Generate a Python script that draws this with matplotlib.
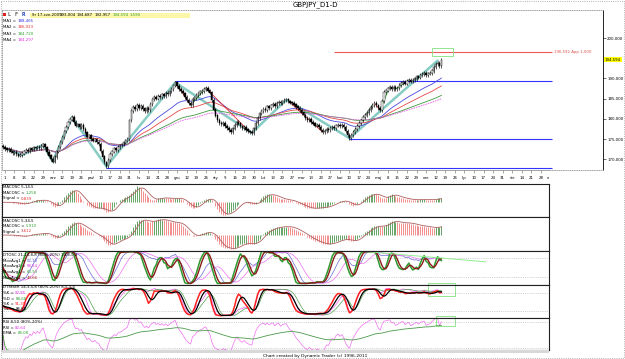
import numpy as np
import pandas as pd
import matplotlib
matplotlib.use("Agg")
import matplotlib.pyplot as plt
from matplotlib.patches import Rectangle
import matplotlib.transforms as mtrans

W, H = 625, 359
FS = 2.8

# daily closes, GBPJPY D1, 31 Jul 2008 .. 17 Jun 2009 (bar index 0..229)
close = np.array([
    173.0, 172.6, 172.2, 172.5, 171.9, 171.6, 171.8, 171.2, 170.9, 171.0,
    171.4, 171.9, 172.3, 172.1, 172.6, 172.4, 172.9, 172.7, 173.0, 172.8,
    173.2, 173.6, 172.9, 171.8, 170.9, 170.0, 169.4, 170.6, 171.9, 173.0,
    174.2, 175.5, 176.9, 178.0, 179.1, 179.8, 180.4, 179.2, 178.3, 178.6,
    178.0, 178.4, 177.5, 176.6, 175.6, 175.9, 175.0, 174.6, 174.9, 174.2,
    173.8, 172.0, 170.6, 169.2, 168.2, 169.8, 171.3, 171.9, 172.6, 172.2,
    173.0, 173.4, 173.6, 174.1, 174.6, 175.0, 179.6, 182.0, 182.9, 182.4,
    183.4, 182.7, 183.2, 182.5, 181.9, 182.6, 182.2, 183.6, 184.8, 185.4,
    185.0, 185.6, 185.3, 186.0, 185.7, 186.4, 186.1, 186.8, 187.3, 188.2,
    189.0, 188.1, 187.4, 186.9, 186.3, 185.4, 184.6, 183.9, 183.4, 184.9,
    185.2, 185.9, 186.3, 186.7, 186.9, 187.4, 187.6, 187.0, 186.5, 184.6,
    182.3, 180.8, 179.7, 179.0, 178.6, 178.9, 178.2, 177.7, 177.2, 176.8,
    177.6, 178.5, 179.2, 178.8, 178.1, 177.7, 178.0, 177.3, 176.9, 176.7,
    176.5, 177.6, 179.0, 180.2, 181.3, 181.9, 182.4, 182.1, 183.0, 182.7,
    183.3, 183.6, 183.2, 183.9, 184.2, 183.8, 184.3, 184.6, 184.7, 184.3,
    184.0, 183.9, 183.5, 183.0, 182.6, 182.2, 181.5, 180.9, 180.2, 179.7,
    179.9, 179.2, 178.8, 178.3, 178.5, 177.9, 177.2, 176.7, 177.0, 177.4,
    177.2, 177.7, 178.0, 177.8, 178.3, 178.5, 178.2, 178.4, 178.0, 177.0,
    176.0, 175.2, 176.0, 176.7, 177.4, 178.2, 178.9, 179.6, 180.4, 180.9,
    181.4, 182.2, 182.9, 183.4, 183.9, 183.3, 182.6, 182.2, 184.4, 186.6,
    187.0, 187.5, 187.9, 187.4, 187.8, 187.3, 187.6, 188.3, 188.8, 189.1,
    188.7, 189.3, 189.6, 189.2, 189.6, 189.9, 190.4, 190.2, 190.8, 191.1,
    191.3, 190.9, 191.2, 191.3, 191.9, 192.8, 193.6, 193.8, 193.004, 194.594,
])
first_open = 173.3

# weekly (Friday) date labels, bar index = 1 + 5*k
date_labels = ['1', '8', '15', '22', '29', 'wrz', '12', '19', '26', 'paź', '10', '17', '24', '31',
               'lis', '14', '21', '28', 'gru', '12', '19', '26', 'sty', '9', '16', '23', '30',
               'lut', '13', '20', '27', 'mar', '13', '20', '27', 'kwi', '10', '17', '24',
               'maj', '8', '15', '22', '29', 'cze', '12', '19', '26', 'lip', '10', '17', '24', '31',
               'sie', '14', '21', '28', 'wrz']

# swing zigzag (bar, price)
zz_bar = [3, 10, 21, 26, 36, 54, 90, 130, 148, 181, 227]
zz_px = [172.5, 171.0, 173.6, 169.4, 180.4, 168.2, 189.0, 176.5, 184.7, 175.2, 194.4]
red_swings = [((90, 189.0), (98, 183.4)), ((106, 187.6), (129, 176.7)),
              ((150, 184.0), (167, 176.7)), ((194, 183.9), (197, 182.2))]
green_swings = [((98, 183.4), (106, 187.6)), ((183, 176.7), (193, 183.4)),
                ((197, 182.2), (202, 187.9)), ((205, 187.3), (212, 189.6))]

# horizontal levels (price, from bar, colour)
levels = [(189.45, 90, '#3434ff'), (174.9, 181, '#3434ff'), (167.85, 54, '#3434ff'),
          (196.592, 173, '#f05858')]
level_end = 286.8

price_ticks = [170, 175, 180, 185, 190, 200]

ma_text = [('MA1 = ', '188,465', '#3030e0'), ('MA2 = ', '186,923', '#e03030'),
           ('MA3 = ', '184,720', '#30a030'), ('MA4 = ', '184,297', '#e030e0')]

# ----- indicators from the closes -----
idx = np.arange(len(close))
s = pd.Series(close)
opn = np.r_[first_open, close[:-1]]
hi = np.maximum(opn, close) + 0.45
lo = np.minimum(opn, close) - 0.45


def sma(x, n):
    return x.rolling(n, min_periods=1).mean()


def rsi(x, n):
    d = x.diff()
    up = d.clip(lower=0).ewm(alpha=1 / n, adjust=False).mean()
    dn = (-d.clip(upper=0)).ewm(alpha=1 / n, adjust=False).mean()
    return (100 - 100 / (1 + up / dn)).fillna(50)


def dtosc(n_rsi, n_st, n_k, n_d):
    r = rsi(s, n_rsi)
    l = r.rolling(n_st, min_periods=1).min()
    h = r.rolling(n_st, min_periods=1).max()
    st = (100 * (r - l) / (h - l)).fillna(50)
    k = sma(st, n_k)
    return k, sma(k, n_d)


def stoch(n, sm, nd):
    l = pd.Series(lo).rolling(n, min_periods=1).min()
    h = pd.Series(hi).rolling(n, min_periods=1).max()
    raw = (100 * (s - l) / (h - l)).fillna(50)
    k = sma(raw, sm)
    return k, sma(k, nd)


ma1 = s.ewm(span=28).mean()
ma2 = s.ewm(span=45).mean()
ma3 = s.ewm(span=80).mean()
ma4 = s.ewm(span=100).mean()

m1 = sma(s, 5) - sma(s, 14)
sg1 = sma(m1, 5)
m2 = sma(s, 5) - sma(s, 34)
sg2 = sma(m2, 5)
dto_k1, dto_d1 = dtosc(21, 13, 8, 8)
dto_k2, dto_d2 = dtosc(14, 8, 5, 3)
st_k1, st_d1 = stoch(14, 3, 5)
st_k2, st_d2 = stoch(8, 3, 4)
rs = rsi(s, 8)
rs_ema = rs.ewm(span=50).mean()

# ----- figure -----
fig = plt.figure(figsize=(W / 100, H / 100), dpi=100)
fig.patch.set_facecolor('white')

XL = (-0.5, 285.2)
PXB = 547 / (XL[1] - XL[0])


def panel(x0, y0, x1, y1):
    a = fig.add_axes([x0 / W, 1 - y1 / H, (x1 - x0) / W, (y1 - y0) / H])
    a.set_xticks([])
    a.set_yticks([])
    return a


# main price panel
ax = panel(2, 10, 603, 170)
ax.set_xlim(XL[0], XL[0] + 601 / PXB)
ax.set_ylim(167.33, 206.93)
for sp in ['left', 'top', 'bottom']:
    ax.spines[sp].set_color('#999999')
    ax.spines[sp].set_linestyle(':')
    ax.spines[sp].set_linewidth(0.6)
ax.spines['right'].set_linewidth(0.6)

ax.plot(zz_bar, zz_px, color='#86ccc4', lw=1.8, zorder=1, solid_capstyle='round')
for p, b0, c in levels:
    ax.hlines(p, b0, level_end, color=c, lw=0.8, zorder=1)
ax.plot(idx, ma1, color='#4a4ae0', lw=0.6, zorder=2)
ax.plot(idx, ma2, color='#e84848', lw=0.6, zorder=2)
ax.plot(idx, ma3, color='#3c9a3c', lw=0.6, zorder=2)
ax.plot(idx, ma4, color='#e860e8', lw=0.6, ls=(0, (2, 1)), zorder=2)
for (a0, a1) in red_swings:
    ax.plot([a0[0], a1[0]], [a0[1], a1[1]], color='#e03030', lw=0.6, zorder=2)
for (a0, a1) in green_swings:
    ax.plot([a0[0], a1[0]], [a0[1], a1[1]], color='#30a030', lw=0.6, zorder=2)

up = close >= opn
ax.vlines(idx, lo, hi, color='k', lw=0.45, zorder=3)
ax.bar(idx, np.abs(close - opn) + 0.08, bottom=np.minimum(opn, close), width=0.75,
       color=np.where(up, 'white', 'black'), edgecolor='k', linewidth=0.3, zorder=4)

ax.add_patch(Rectangle((224, 195.55), 11, 1.95, fill=False, ec='#80e080', lw=0.6, zorder=5))

ax.yaxis.tick_right()
ax.set_yticks(price_ticks)
ax.set_yticklabels([f'{t},000' for t in price_ticks])
ax.tick_params(axis='y', length=2, width=0.4, labelsize=FS, pad=1)
ax.text(1.003, 194.594, '194,594', transform=mtrans.blended_transform_factory(ax.transAxes, ax.transData),
        fontsize=FS, va='center', ha='left', clip_on=False,
        bbox=dict(boxstyle='square,pad=0.15', fc='#ffff00', ec='none'))
ax.text(level_end + 0.8, 196.592, '196,592 App 1,000', fontsize=FS, color='#e05050',
        va='center', ha='left')

# date strip
axd = panel(2, 170, 549, 184)
axd.set_xlim(*XL)
axd.set_ylim(0, 1)
for sp in axd.spines.values():
    sp.set_visible(False)
axd.spines['top'].set_visible(True)
axd.spines['top'].set_color('#888888')
axd.spines['top'].set_linewidth(0.5)
wk = [1 + 5 * k for k in range(len(date_labels))]
axd.vlines(wk, 0.78, 1.0, color='#666666', lw=0.4)
axd.vlines(np.arange(0, 286), 0.9, 1.0, color='#aaaaaa', lw=0.25)
for b, lab in zip(wk, date_labels):
    axd.text(b, 0.45, lab, fontsize=FS, ha='center', va='center', clip_on=True)


def lower(y0, y1):
    a = panel(2, y0, 549, y1)
    a.set_xlim(*XL)
    for sp in a.spines.values():
        sp.set_linewidth(0.8)
        sp.set_color('#202020')
    return a


def macd_panel(a, m, sg):
    cols = np.where(m >= sg, '#3a8a3a', '#f07070')
    a.vlines(idx, 0, m, colors=cols, lw=0.55)
    a.plot(idx, sg, color='#b06060', lw=0.6)
    lo_, hi_ = min(m.min(), sg.min()), max(m.max(), sg.max())
    pad = (hi_ - lo_) * 0.08
    a.set_ylim(lo_ - pad, hi_ + pad)


a1 = lower(184, 217)
macd_panel(a1, m1, sg1)
a2 = lower(217, 251)
macd_panel(a2, m2, sg2)

a3 = lower(251, 285)
a3.set_ylim(-5, 102)
a3.hlines([80, 20], *XL, color='#aaaaaa', lw=0.5, ls=':')
a3.plot(idx, dto_k1, color='#6a6ad8', lw=0.5)
a3.plot(idx, dto_d1, color='#f070f0', lw=0.5)
a3.plot(idx, dto_k2, color='#2c9a2c', lw=1.1)
a3.plot(idx, dto_d2, color='#8b1c1c', lw=1.0)
a3.plot([190, 252], [100, 68], color='#90ee90', lw=0.7)

a4 = lower(285, 318)
a4.set_ylim(-3, 107)
a4.hlines([80, 20], *XL, color='#aaaaaa', lw=0.5, ls=':')
a4.plot(idx, st_k1, color='#f060f0', lw=0.5)
a4.plot(idx, st_d1, color='#50a050', lw=0.5)
a4.plot(idx, st_k2, color='#ff2020', lw=1.1)
a4.plot(idx, st_d2, color='black', lw=0.9)
a4.add_patch(Rectangle((222, 70), 14, 43, fill=False, ec='#80e080', lw=0.6, clip_on=False))

a5 = lower(318, 350)
a5.set_ylim(15, 89)
a5.hlines([80, 20], *XL, color='#aaaaaa', lw=0.5, ls=':')
a5.plot(idx, rs, color='#f070f0', lw=0.5)
a5.plot(idx, rs_ema, color='#4a9a4a', lw=0.6)
a5.add_patch(Rectangle((226, 70.8), 10, 23, fill=False, ec='#80e080', lw=0.6, clip_on=False))

# overlay in pixel coordinates for labels and frame
ov = fig.add_axes([0, 0, 1, 1], zorder=10)
ov.set_xlim(0, W)
ov.set_ylim(H, 0)
ov.axis('off')
ov.patch.set_alpha(0)

ov.add_patch(Rectangle((0.5, 0.5), W - 1.5, H - 1.5, fill=False, ec='#999999', lw=0.6, ls=':'))
ov.add_patch(Rectangle((2, 350), 547, 3, fc='#d8d8d8', ec='none'))
ov.text(315, 5, 'GBPJPY_D1-D', fontsize=5, ha='center', va='center')
ov.text(315, 355.5, 'Chart created by Dynamic Trader (c) 1996-2011', fontsize=3.2,
        ha='center', va='center')

# toolbar
ov.add_patch(Rectangle((2.5, 13.3), 3, 3, fc='#e02020', ec='none'))
ov.text(8, 15, 'L', fontsize=3.4, color='#707070', va='center', weight='bold')
ov.text(15, 15, 'F', fontsize=3.4, color='#707070', va='center', weight='bold')
ov.text(22, 15, 'R', fontsize=3.4, color='#3050c0', va='center', weight='bold')
ov.add_patch(Rectangle((30, 12.5), 160, 5, fc='#fbf6a8', ec='none'))
bar_vals = [('Sr 17-cze-2009', 32, 'black'), ('193,004', 60, 'black'), ('194,687', 77, 'black'),
            ('192,957', 95, 'black'), ('194,594', 113, '#30a030'), ('1,590', 130, '#30a030')]
for t, x, c in bar_vals:
    ov.text(x, 15, t, fontsize=FS, color=c, va='center')


def label(x, y, head, val=None, col='black'):
    t = ov.text(x, y, head, fontsize=FS, va='center', ha='left')
    if val is not None:
        ov.annotate(val, xy=(1, 0.5), xycoords=t, fontsize=FS, color=col, va='center', ha='left')


for k, (h, v, c) in enumerate(ma_text):
    label(3, 20.5 + 6.6 * k, h, v, c)

label(3, 187.5, 'MACOSC 5,14,5')
label(3, 193, 'MACOSC = ', '1,258', '#30a030')
label(3, 198.5, 'Signal = ', '0,839', '#e03030')
label(3, 220.5, 'MACOSC 5,34,5')
label(3, 226, 'MACOSC = ', '5,910', '#30a030')
label(3, 231.5, 'Signal = ', '3,612', '#e03030')
label(3, 255, 'DTOSC 21,13,8,8 (80%-20%) 14,8,5,3')
label(3, 260.7, 'MovAvg1 = ', '52,10', '#5050c0')
label(3, 266.4, 'MovAvg2 = ', '58,54', '#e030e0')
label(3, 272.1, 'MovAvg1 = ', '60,93', '#30a030')
label(3, 277.8, 'MovAvg2 = ', '43,66', '#a02020')
label(3, 287.5, 'DTStoch 14,3,5,8 (80%-20%) 8,5,3,4')
label(3, 293, '%K = ', '92,85', '#e030e0')
label(3, 298.5, '%D = ', '88,66', '#30a030')
label(3, 304, '%K = ', '91,35', '#ff2020')
label(3, 309.5, '%D = ', '86,68', 'black')
label(3, 322, 'RSI 8,50 (80%-20%)')
label(3, 327.7, 'RSI = ', '82,64', '#e030e0')
label(3, 333.4, 'EMA = ', '68,08', '#30a030')

fig.savefig('out.png', dpi=100)
